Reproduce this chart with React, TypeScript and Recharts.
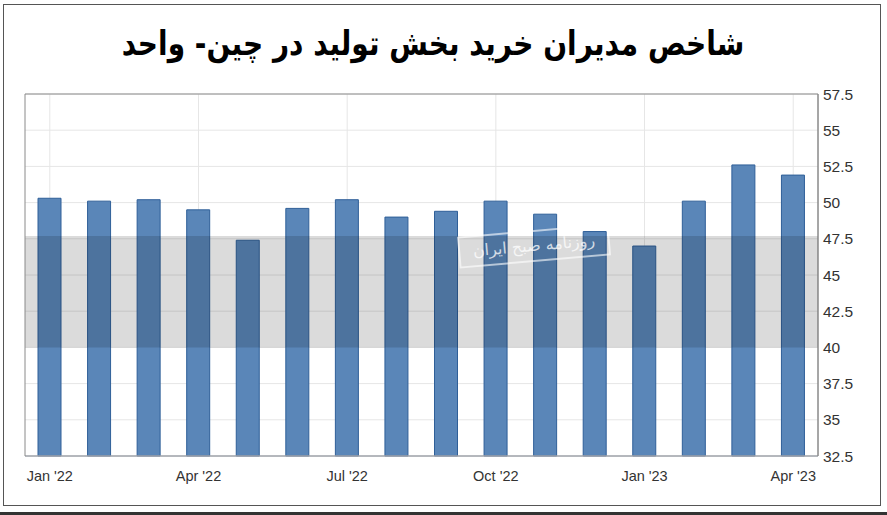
import React from "react";
import {
  BarChart,
  Bar,
  XAxis,
  YAxis,
  CartesianGrid,
  ReferenceArea,
  ReferenceLine,
} from "recharts";

const months = [
  "Jan '22", "Feb '22", "Mar '22", "Apr '22", "May '22", "Jun '22",
  "Jul '22", "Aug '22", "Sep '22", "Oct '22", "Nov '22", "Dec '22",
  "Jan '23", "Feb '23", "Mar '23", "Apr '23",
];
const pmiValues = [
  50.3, 50.1, 50.2, 49.5, 47.4, 49.6, 50.2, 49.0,
  49.4, 50.1, 49.2, 48.0, 47.0, 50.1, 52.6, 51.9,
];
const yTicks = [32.5, 35, 37.5, 40, 42.5, 45, 47.5, 50, 52.5, 55, 57.5];
const labeledMonths = ["Jan '22", "Apr '22", "Jul '22", "Oct '22", "Jan '23", "Apr '23"];
const bandRange = [40, 47.7];

const titleText = "شاخص مدیران خرید بخش تولید در چین- واحد";
const watermarkText = "روزنامه صبح ایران";

const data = months.map((m, i) => ({ month: m, value: pmiValues[i] }));

const tickStyle = { fontFamily: "'Liberation Sans', Arial, sans-serif", fontSize: 14.5, fill: "#333" };

export default function App() {
  return (
    <div
      style={{
        position: "absolute",
        left: 0,
        top: 0,
        width: 887,
        height: 515,
        background: "#fff",
        overflow: "hidden",
      }}
    >
      <div
        style={{
          position: "absolute",
          left: 3,
          top: 4,
          width: 876,
          height: 500,
          border: "1.5px solid #555",
        }}
      />
      <div
        style={{
          position: "absolute",
          left: 0,
          top: 512,
          width: 887,
          height: 3,
          background: "#333",
        }}
      />
      <div
        style={{
          position: "absolute",
          left: 0,
          top: 19,
          width: 866,
          textAlign: "center",
          direction: "rtl",
          fontFamily: "'DejaVu Sans', sans-serif",
          fontWeight: "bold",
          fontSize: 28,
          color: "#000",
          lineHeight: "50px",
          transform: "scaleY(1.2)",
        }}
      >
        {titleText}
      </div>
      <div style={{ position: "absolute", left: 0, top: 0 }}>
        <BarChart
          width={887}
          height={515}
          data={data}
          margin={{ top: 94, right: 19, left: 25, bottom: 29 }}
        >
          <CartesianGrid vertical={false} stroke="#e6e6e6" />
          {labeledMonths.map((m) => (
            <ReferenceLine key={m} x={m} stroke="#e6e6e6" zIndex={-90} />
          ))}
          <XAxis
            dataKey="month"
            interval={2}
            tickLine={false}
            axisLine={{ stroke: "#ccd6eb" }}
            tick={tickStyle}
            height={30}
            tickSize={6}
            tickMargin={9}
          />
          <YAxis
            orientation="right"
            domain={[32.5, 57.5]}
            ticks={yTicks}
            interval={0}
            tickLine={false}
            axisLine={{ stroke: "#888" }}
            tick={{ ...tickStyle, fontSize: 15.5 }}
            width={50}
            tickSize={0}
            tickMargin={5}
          />
          <Bar
            dataKey="value"
            fill="#5a86b8"
            stroke="#2f5f98"
            strokeWidth={1}
            barSize={23}
            isAnimationActive={false}
          />
          <ReferenceArea
            y1={bandRange[0]}
            y2={bandRange[1]}
            fill="#000"
            fillOpacity={0.14}
            stroke="none"
            zIndex={800}
          />
          <ReferenceArea
            y1={32.5}
            y2={57.5}
            fill="none"
            stroke="#8a8a8a"
            strokeWidth={1}
            zIndex={800}
          />
        </BarChart>
      </div>
      <div
        style={{
          position: "absolute",
          left: 458,
          top: 230,
          width: 148,
          height: 28,
          border: "2px solid rgba(255,255,255,0.6)",
          transform: "rotate(-5deg)",
          direction: "rtl",
          textAlign: "center",
          fontFamily: "'DejaVu Sans', sans-serif",
          fontSize: 16,
          lineHeight: "28px",
          color: "rgba(255,255,255,0.75)",
        }}
      >
        {watermarkText}
      </div>
    </div>
  );
}
